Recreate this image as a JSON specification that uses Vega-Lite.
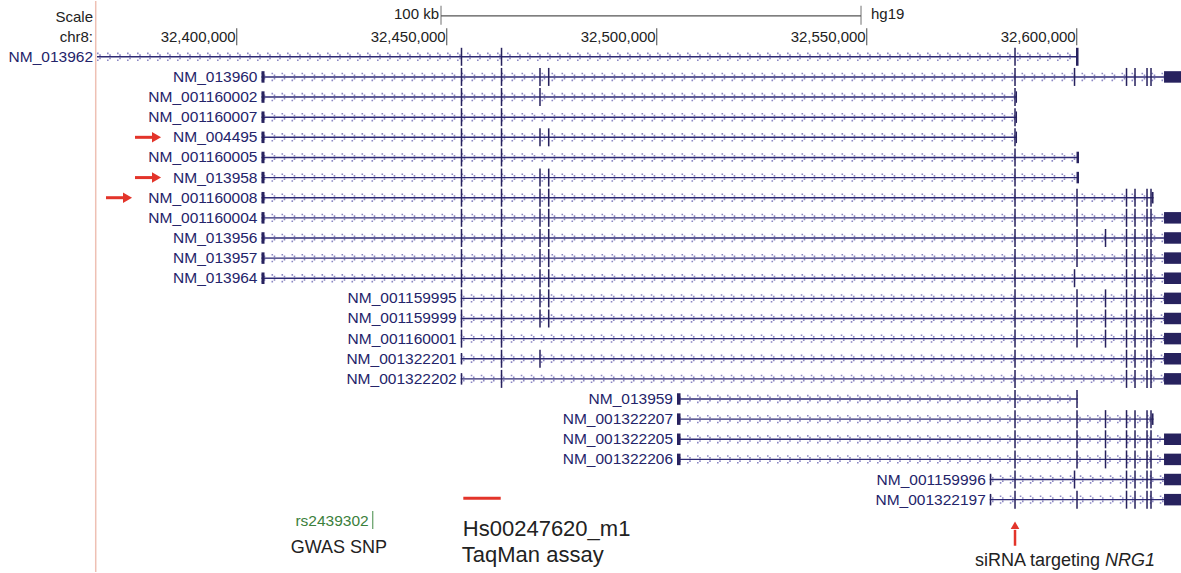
{
"$schema": "https://vega.github.io/schema/vega-lite/v6.json",
"width": 1181, "height": 573,
"autosize": {"type": "fit", "contains": "padding"},
"padding": 0,
"background": "white",
"config": {"view": {"stroke": null}, "text": {"font": "Liberation Sans"}},
"datasets": {
"exdefs": [
{"e":"S263","xs":32405900,"xe":32406620,"kind":"utr"},
{"e":"E461","xs":32453340,"xe":32453700,"kind":"cds"},
{"e":"U461","xs":32453340,"xe":32453700,"kind":"utr"},
{"e":"E501","xs":32462870,"xe":32463230,"kind":"cds"},
{"e":"E540","xs":32472030,"xe":32472390,"kind":"cds"},
{"e":"E549","xs":32474100,"xe":32474470,"kind":"cds"},
{"e":"S678","xs":32504830,"xe":32505670,"kind":"utr"},
{"e":"S990","xs":32579300,"xe":32579660,"kind":"utr"},
{"e":"E1015","xs":32585130,"xe":32585490,"kind":"cds"},
{"e":"U1016","xs":32585490,"xe":32585790,"kind":"utr"},
{"e":"E1074","xs":32599300,"xe":32599660,"kind":"cds"},
{"e":"E1077","xs":32599890,"xe":32600250,"kind":"cds"},
{"e":"C1077","xs":32599830,"xe":32600430,"kind":"cds"},
{"e":"U1078","xs":32599950,"xe":32600550,"kind":"utr"},
{"e":"E1105","xs":32606680,"xe":32607040,"kind":"cds"},
{"e":"E1126","xs":32611680,"xe":32612040,"kind":"cds"},
{"e":"E1135","xs":32613700,"xe":32614060,"kind":"cds"},
{"e":"E1147","xs":32616560,"xe":32616920,"kind":"cds"},
{"e":"E1151","xs":32617510,"xe":32617870,"kind":"cds"},
{"e":"U1152","xs":32617870,"xe":32618290,"kind":"utr"},
{"e":"U1164","xs":32620790,"xe":32626000,"kind":"utr"}
],
"tx": [
{"name":"NM_013962","row":0,"start":32366738,"end":32600071,"exons":["E461","E501","E1015","C1077"]},
{"name":"NM_013960","row":1,"start":32405900,"end":32626000,"exons":["S263","E461","E501","E540","E549","E1015","E1074","E1126","E1135","E1147","E1151","U1164"]},
{"name":"NM_001160002","row":2,"start":32405900,"end":32585790,"exons":["S263","E461","E501","E540","E1015","U1016"]},
{"name":"NM_001160007","row":3,"start":32405900,"end":32585790,"exons":["S263","E461","E501","E1015","U1016"]},
{"name":"NM_004495","row":4,"start":32405900,"end":32585790,"exons":["S263","E461","E501","E540","E549","E1015","U1016"]},
{"name":"NM_001160005","row":5,"start":32405900,"end":32600550,"exons":["S263","E461","E501","E1015","U1078"]},
{"name":"NM_013958","row":6,"start":32405900,"end":32600550,"exons":["S263","E461","E501","E540","E549","E1015","U1078"]},
{"name":"NM_001160008","row":7,"start":32405900,"end":32618290,"exons":["S263","E461","E501","E540","E549","E1015","E1077","E1126","E1135","E1147","E1151","U1152"]},
{"name":"NM_001160004","row":8,"start":32405900,"end":32626000,"exons":["S263","E461","E501","E540","E549","E1015","E1077","E1126","E1135","E1147","E1151","U1164"]},
{"name":"NM_013956","row":9,"start":32405900,"end":32626000,"exons":["S263","E461","E501","E540","E549","E1015","E1077","E1105","E1126","E1135","E1147","E1151","U1164"]},
{"name":"NM_013957","row":10,"start":32405900,"end":32626000,"exons":["S263","E461","E501","E540","E549","E1015","E1077","E1126","E1135","E1147","E1151","U1164"]},
{"name":"NM_013964","row":11,"start":32405900,"end":32626000,"exons":["S263","E461","E501","E540","E549","E1015","E1074","E1126","E1135","E1147","E1151","U1164"]},
{"name":"NM_001159995","row":12,"start":32453340,"end":32626000,"exons":["E461","E501","E540","E549","E1015","E1077","E1105","E1126","E1135","E1147","E1151","U1164"]},
{"name":"NM_001159999","row":13,"start":32453340,"end":32626000,"exons":["E461","E501","E540","E549","E1015","E1077","E1105","E1126","E1135","E1147","E1151","U1164"]},
{"name":"NM_001160001","row":14,"start":32453340,"end":32626000,"exons":["E461","E501","E1015","E1077","E1105","E1126","E1135","E1147","E1151","U1164"]},
{"name":"NM_001322201","row":15,"start":32453340,"end":32626000,"exons":["U461","E501","E540","E1015","E1126","E1135","E1147","E1151","U1164"]},
{"name":"NM_001322202","row":16,"start":32453340,"end":32626000,"exons":["U461","E501","E1015","E1126","E1135","E1147","E1151","U1164"]},
{"name":"NM_013959","row":17,"start":32504830,"end":32600250,"exons":["S678","E1015","E1077"]},
{"name":"NM_001322207","row":18,"start":32504830,"end":32618290,"exons":["S678","E1015","E1077","E1105","E1126","E1135","E1147","E1151","U1152"]},
{"name":"NM_001322205","row":19,"start":32504830,"end":32626000,"exons":["S678","E1015","E1077","E1105","E1126","E1135","E1147","E1151","U1164"]},
{"name":"NM_001322206","row":20,"start":32504830,"end":32626000,"exons":["S678","E1015","E1077","E1105","E1126","E1135","E1147","E1151","U1164"]},
{"name":"NM_001159996","row":21,"start":32579300,"end":32626000,"exons":["S990","E1015","E1074","E1126","E1135","E1147","E1151","U1164"]},
{"name":"NM_001322197","row":22,"start":32579300,"end":32626000,"exons":["S990","E1015","E1077","E1126","E1135","E1147","E1151","U1164"]}
],
"header": [{"text":"Scale","pos":32366738,"row":-2},{"text":"chr8:","pos":32366738,"row":-1}],
"coords": [{"pos":32400000,"label":"32,400,000"},{"pos":32450000,"label":"32,450,000"},{"pos":32500000,"label":"32,500,000"},{"pos":32550000,"label":"32,550,000"},{"pos":32600000,"label":"32,600,000"}],
"scalebar": [{"from":32448643,"to":32548643,"label":"100 kb","assembly":"hg19"}],
"divider": [{"pos":32366429}],
"arrows": [{"row":4,"from":32375786,"to":32381976},{"row":6,"from":32375786,"to":32381976},{"row":7,"from":32368881,"to":32375071}],
"assay": [{"id":"Hs00247620_m1","note":"TaqMan assay","from":32453952,"to":32462857}],
"snp": [{"id":"rs2439302","note":"GWAS SNP","pos":32432381}],
"sirna": [{"note":"siRNA targeting","gene":"NRG1","pos":32585310}]
},
"layer": [
{"data":{"name":"divider"},"mark":{"type":"rule","color":"#eec0b4","strokeWidth":1.5},
 "encoding":{"x":{"field":"pos","type":"quantitative","scale":{"domain":[32343640,32624830],"nice":false,"zero":false},"axis":null},
 "y":{"datum":-2.772,"type":"quantitative","scale":{"domain":[-2.772,25.594],"reverse":true,"nice":false,"zero":false},"axis":null},
 "y2":{"datum":25.594}}},
{"data":{"name":"tx"},"mark":{"type":"rule","clip":true,"color":"#8c88c4","strokeWidth":1.6,"strokeDash":[1.6,8.4],"strokeDashOffset":0,"yOffset":-3.4},
 "encoding":{"x":{"field":"start","type":"quantitative","scale":{"domain":[32343640,32624830],"nice":false,"zero":false},"axis":null},"x2":{"field":"end"},
 "y":{"field":"row","type":"quantitative","scale":{"domain":[-2.772,25.594],"reverse":true,"nice":false,"zero":false},"axis":null}}},
{"data":{"name":"tx"},"mark":{"type":"rule","clip":true,"color":"#8c88c4","strokeWidth":1.6,"strokeDash":[1.6,8.4],"strokeDashOffset":7.8,"yOffset":-1.7},
 "encoding":{"x":{"field":"start","type":"quantitative","scale":{"domain":[32343640,32624830],"nice":false,"zero":false},"axis":null},"x2":{"field":"end"},
 "y":{"field":"row","type":"quantitative","scale":{"domain":[-2.772,25.594],"reverse":true,"nice":false,"zero":false},"axis":null}}},
{"data":{"name":"tx"},"mark":{"type":"rule","clip":true,"color":"#8c88c4","strokeWidth":1.6,"strokeDash":[1.6,8.4],"strokeDashOffset":7.8,"yOffset":1.7},
 "encoding":{"x":{"field":"start","type":"quantitative","scale":{"domain":[32343640,32624830],"nice":false,"zero":false},"axis":null},"x2":{"field":"end"},
 "y":{"field":"row","type":"quantitative","scale":{"domain":[-2.772,25.594],"reverse":true,"nice":false,"zero":false},"axis":null}}},
{"data":{"name":"tx"},"mark":{"type":"rule","clip":true,"color":"#8c88c4","strokeWidth":1.6,"strokeDash":[1.6,8.4],"strokeDashOffset":0,"yOffset":3.4},
 "encoding":{"x":{"field":"start","type":"quantitative","scale":{"domain":[32343640,32624830],"nice":false,"zero":false},"axis":null},"x2":{"field":"end"},
 "y":{"field":"row","type":"quantitative","scale":{"domain":[-2.772,25.594],"reverse":true,"nice":false,"zero":false},"axis":null}}},
{"data":{"name":"tx"},"mark":{"type":"rule","clip":true,"color":"#2e2a74","strokeWidth":1.4},
 "encoding":{"x":{"field":"start","type":"quantitative","scale":{"domain":[32343640,32624830],"nice":false,"zero":false},"axis":null},"x2":{"field":"end"},
 "y":{"field":"row","type":"quantitative","scale":{"domain":[-2.772,25.594],"reverse":true,"nice":false,"zero":false},"axis":null}}},
{"data":{"name":"tx"},
 "transform":[{"flatten":["exons"],"as":["e"]},{"lookup":"e","from":{"data":{"name":"exdefs"},"key":"e","fields":["xs","xe","kind"]}}],
 "mark":{"type":"rule","clip":true,"color":"#27225e"},
 "encoding":{"x":{"field":"xs","type":"quantitative","scale":{"domain":[32343640,32624830],"nice":false,"zero":false},"axis":null},"x2":{"field":"xe"},
 "y":{"field":"row","type":"quantitative","scale":{"domain":[-2.772,25.594],"reverse":true,"nice":false,"zero":false},"axis":null},
 "strokeWidth":{"field":"kind","type":"nominal","scale":{"domain":["cds","utr"],"range":[18,11.5]},"legend":null}}},
{"data":{"name":"tx"},"mark":{"type":"text","align":"right","baseline":"middle","dx":-4,"fontSize":15.5,"color":"#24246a"},
 "encoding":{"x":{"field":"start","type":"quantitative","scale":{"domain":[32343640,32624830],"nice":false,"zero":false},"axis":null},
 "y":{"field":"row","type":"quantitative","scale":{"domain":[-2.772,25.594],"reverse":true,"nice":false,"zero":false},"axis":null},
 "text":{"field":"name","type":"nominal"}}},
{"data":{"name":"header"},"mark":{"type":"text","align":"right","baseline":"middle","dx":-4,"fontSize":15,"color":"#222222"},
 "encoding":{"x":{"field":"pos","type":"quantitative","scale":{"domain":[32343640,32624830],"nice":false,"zero":false},"axis":null},
 "y":{"field":"row","type":"quantitative","scale":{"domain":[-2.772,25.594],"reverse":true,"nice":false,"zero":false},"axis":null},
 "text":{"field":"text","type":"nominal"}}},
{"data":{"name":"coords"},"mark":{"type":"tick","orient":"vertical","size":17,"thickness":1.2,"color":"#222222"},
 "encoding":{"x":{"field":"pos","type":"quantitative","scale":{"domain":[32343640,32624830],"nice":false,"zero":false},"axis":null},
 "y":{"datum":-1,"type":"quantitative","scale":{"domain":[-2.772,25.594],"reverse":true,"nice":false,"zero":false},"axis":null}}},
{"data":{"name":"coords"},"mark":{"type":"text","align":"right","baseline":"middle","dx":-1,"fontSize":15,"color":"#222222"},
 "encoding":{"x":{"field":"pos","type":"quantitative","scale":{"domain":[32343640,32624830],"nice":false,"zero":false},"axis":null},
 "y":{"datum":-1,"type":"quantitative","scale":{"domain":[-2.772,25.594],"reverse":true,"nice":false,"zero":false},"axis":null},
 "text":{"field":"label","type":"nominal"}}},
{"data":{"name":"scalebar"},"mark":{"type":"rule","color":"#555555","strokeWidth":1.3},
 "encoding":{"x":{"field":"from","type":"quantitative","scale":{"domain":[32343640,32624830],"nice":false,"zero":false},"axis":null},"x2":{"field":"to"},
 "y":{"datum":-2.03,"type":"quantitative","scale":{"domain":[-2.772,25.594],"reverse":true,"nice":false,"zero":false},"axis":null}}},
{"data":{"name":"scalebar"},"mark":{"type":"tick","orient":"vertical","size":19,"thickness":1.2,"color":"#555555"},
 "encoding":{"x":{"field":"from","type":"quantitative","scale":{"domain":[32343640,32624830],"nice":false,"zero":false},"axis":null},
 "y":{"datum":-2.07,"type":"quantitative","scale":{"domain":[-2.772,25.594],"reverse":true,"nice":false,"zero":false},"axis":null}}},
{"data":{"name":"scalebar"},"mark":{"type":"tick","orient":"vertical","size":19,"thickness":1.2,"color":"#555555"},
 "encoding":{"x":{"field":"to","type":"quantitative","scale":{"domain":[32343640,32624830],"nice":false,"zero":false},"axis":null},
 "y":{"datum":-2.07,"type":"quantitative","scale":{"domain":[-2.772,25.594],"reverse":true,"nice":false,"zero":false},"axis":null}}},
{"data":{"name":"scalebar"},"mark":{"type":"text","align":"right","baseline":"middle","dx":-2,"fontSize":15,"color":"#222222"},
 "encoding":{"x":{"field":"from","type":"quantitative","scale":{"domain":[32343640,32624830],"nice":false,"zero":false},"axis":null},
 "y":{"datum":-2.15,"type":"quantitative","scale":{"domain":[-2.772,25.594],"reverse":true,"nice":false,"zero":false},"axis":null},
 "text":{"field":"label","type":"nominal"}}},
{"data":{"name":"scalebar"},"mark":{"type":"text","align":"left","baseline":"middle","dx":10,"fontSize":15,"color":"#222222"},
 "encoding":{"x":{"field":"to","type":"quantitative","scale":{"domain":[32343640,32624830],"nice":false,"zero":false},"axis":null},
 "y":{"datum":-2.15,"type":"quantitative","scale":{"domain":[-2.772,25.594],"reverse":true,"nice":false,"zero":false},"axis":null},
 "text":{"field":"assembly","type":"nominal"}}},
{"data":{"name":"arrows"},"mark":{"type":"rule","color":"#e3342a","strokeWidth":3,"x2Offset":-6},
 "encoding":{"x":{"field":"from","type":"quantitative","scale":{"domain":[32343640,32624830],"nice":false,"zero":false},"axis":null},"x2":{"field":"to"},
 "y":{"field":"row","type":"quantitative","scale":{"domain":[-2.772,25.594],"reverse":true,"nice":false,"zero":false},"axis":null}}},
{"data":{"name":"arrows"},"mark":{"type":"point","shape":"triangle-right","filled":true,"size":110,"color":"#e3342a","opacity":1,"xOffset":-4.5},
 "encoding":{"x":{"field":"to","type":"quantitative","scale":{"domain":[32343640,32624830],"nice":false,"zero":false},"axis":null},
 "y":{"field":"row","type":"quantitative","scale":{"domain":[-2.772,25.594],"reverse":true,"nice":false,"zero":false},"axis":null}}},
{"data":{"name":"assay"},"mark":{"type":"rule","color":"#e3342a","strokeWidth":3},
 "encoding":{"x":{"field":"from","type":"quantitative","scale":{"domain":[32343640,32624830],"nice":false,"zero":false},"axis":null},"x2":{"field":"to"},
 "y":{"datum":21.93,"type":"quantitative","scale":{"domain":[-2.772,25.594],"reverse":true,"nice":false,"zero":false},"axis":null}}},
{"data":{"name":"assay"},"mark":{"type":"text","align":"left","baseline":"alphabetic","dx":-0.5,"fontSize":22,"color":"#222222"},
 "encoding":{"x":{"field":"from","type":"quantitative","scale":{"domain":[32343640,32624830],"nice":false,"zero":false},"axis":null},
 "y":{"datum":23.8,"type":"quantitative","scale":{"domain":[-2.772,25.594],"reverse":true,"nice":false,"zero":false},"axis":null},
 "text":{"field":"id","type":"nominal"}}},
{"data":{"name":"assay"},"mark":{"type":"text","align":"left","baseline":"alphabetic","dx":-1.5,"fontSize":22,"color":"#222222"},
 "encoding":{"x":{"field":"from","type":"quantitative","scale":{"domain":[32343640,32624830],"nice":false,"zero":false},"axis":null},
 "y":{"datum":25.1,"type":"quantitative","scale":{"domain":[-2.772,25.594],"reverse":true,"nice":false,"zero":false},"axis":null},
 "text":{"field":"note","type":"nominal"}}},
{"data":{"name":"snp"},"mark":{"type":"tick","orient":"vertical","size":18,"thickness":1.3,"color":"#2e7d32"},
 "encoding":{"x":{"field":"pos","type":"quantitative","scale":{"domain":[32343640,32624830],"nice":false,"zero":false},"axis":null},
 "y":{"datum":23.01,"type":"quantitative","scale":{"domain":[-2.772,25.594],"reverse":true,"nice":false,"zero":false},"axis":null}}},
{"data":{"name":"snp"},"mark":{"type":"text","align":"right","baseline":"alphabetic","dx":-4,"fontSize":15.5,"color":"#3b803b"},
 "encoding":{"x":{"field":"pos","type":"quantitative","scale":{"domain":[32343640,32624830],"nice":false,"zero":false},"axis":null},
 "y":{"datum":23.3,"type":"quantitative","scale":{"domain":[-2.772,25.594],"reverse":true,"nice":false,"zero":false},"axis":null},
 "text":{"field":"id","type":"nominal"}}},
{"data":{"name":"snp"},"mark":{"type":"text","align":"left","baseline":"alphabetic","dx":-82,"fontSize":18,"color":"#222222"},
 "encoding":{"x":{"field":"pos","type":"quantitative","scale":{"domain":[32343640,32624830],"nice":false,"zero":false},"axis":null},
 "y":{"datum":24.65,"type":"quantitative","scale":{"domain":[-2.772,25.594],"reverse":true,"nice":false,"zero":false},"axis":null},
 "text":{"field":"note","type":"nominal"}}},
{"data":{"name":"sirna"},"mark":{"type":"rule","color":"#e3342a","strokeWidth":2.5},
 "encoding":{"x":{"field":"pos","type":"quantitative","scale":{"domain":[32343640,32624830],"nice":false,"zero":false},"axis":null},
 "y":{"datum":24.29,"type":"quantitative","scale":{"domain":[-2.772,25.594],"reverse":true,"nice":false,"zero":false},"axis":null},
 "y2":{"datum":23.5}}},
{"data":{"name":"sirna"},"mark":{"type":"point","shape":"triangle-up","filled":true,"size":75,"color":"#e3342a","opacity":1},
 "encoding":{"x":{"field":"pos","type":"quantitative","scale":{"domain":[32343640,32624830],"nice":false,"zero":false},"axis":null},
 "y":{"datum":23.27,"type":"quantitative","scale":{"domain":[-2.772,25.594],"reverse":true,"nice":false,"zero":false},"axis":null}}},
{"data":{"name":"sirna"},"mark":{"type":"text","align":"left","baseline":"alphabetic","dx":-40,"fontSize":18,"color":"#222222"},
 "encoding":{"x":{"field":"pos","type":"quantitative","scale":{"domain":[32343640,32624830],"nice":false,"zero":false},"axis":null},
 "y":{"datum":25.28,"type":"quantitative","scale":{"domain":[-2.772,25.594],"reverse":true,"nice":false,"zero":false},"axis":null},
 "text":{"field":"note","type":"nominal"}}},
{"data":{"name":"sirna"},"mark":{"type":"text","align":"left","baseline":"alphabetic","dx":90,"fontSize":18,"fontStyle":"italic","color":"#222222"},
 "encoding":{"x":{"field":"pos","type":"quantitative","scale":{"domain":[32343640,32624830],"nice":false,"zero":false},"axis":null},
 "y":{"datum":25.28,"type":"quantitative","scale":{"domain":[-2.772,25.594],"reverse":true,"nice":false,"zero":false},"axis":null},
 "text":{"field":"gene","type":"nominal"}}}
]
}
